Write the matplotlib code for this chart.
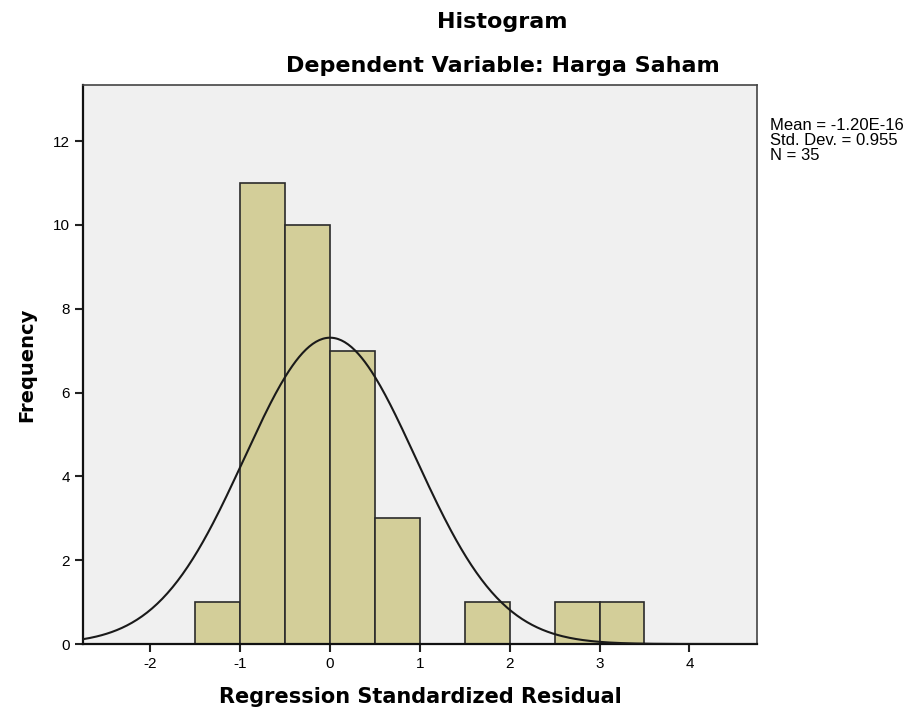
import numpy as np
import matplotlib.pyplot as plt

plt.rcParams['font.family'] = ['Liberation Sans', 'DejaVu Sans']
plt.rcParams['axes.unicode_minus'] = False

# histogram bins (width 0.5) and counts
bin_edges = [-1.5, -1.0, -0.5, 0.0, 0.5, 1.0, 1.5, 2.0, 2.5, 3.0, 3.5]
counts = [1, 11, 10, 7, 3, 0, 1, 0, 1, 1]

mean = -1.20e-16
std = 0.955
n = 35

fig = plt.figure(figsize=(9.13, 7.18), dpi=100)
ax = fig.add_axes([0.0909, 0.103, 0.738, 0.778])
ax.set_facecolor('#f0f0f0')

left = np.array(bin_edges[:-1])
widths = np.diff(bin_edges)
ax.bar(left, counts, width=widths, align='edge', color='#d3ce99',
       edgecolor='#2b2b2b', linewidth=1.2, zorder=2)

# fitted normal curve
bw = bin_edges[1] - bin_edges[0]
xs = np.linspace(-2.75, 4.75, 400)
ys = n * bw / (std * np.sqrt(2 * np.pi)) * np.exp(-0.5 * ((xs - mean) / std) ** 2)
ax.plot(xs, ys, color='#1a1a1a', linewidth=1.5, zorder=3)

ax.set_xlim(-2.75, 4.75)
ax.set_ylim(0, 13.33)
ax.set_xticks(range(-2, 5))
ax.set_yticks(range(0, 13, 2))
ax.tick_params(direction='out', length=6, width=1.5, labelsize=11, color='#222222')
for s in ax.spines.values():
    s.set_color('#444444')
    s.set_linewidth(1.2)
ax.spines['left'].set_color('#111111')
ax.spines['bottom'].set_color('#111111')
ax.spines['left'].set_linewidth(1.6)
ax.spines['bottom'].set_linewidth(1.6)

bold = dict(family='DejaVu Sans', fontweight='bold')
ax.set_xlabel('Regression Standardized Residual', fontsize=15, labelpad=11, **bold)
ax.set_ylabel('Frequency', fontsize=14, labelpad=12, **bold)

fig.text(0.550, 0.970, 'Histogram', ha='center', va='center', fontsize=16, **bold)
fig.text(0.551, 0.908, 'Dependent Variable: Harga Saham', ha='center', va='center',
         fontsize=16, **bold)

fig.text(0.843, 0.836, 'Mean = -1.20E-16\nStd. Dev. = 0.955\nN = 35', ha='left', va='top',
         fontsize=12, linespacing=1.0)

fig.savefig('out.png', dpi=100, facecolor='white')
